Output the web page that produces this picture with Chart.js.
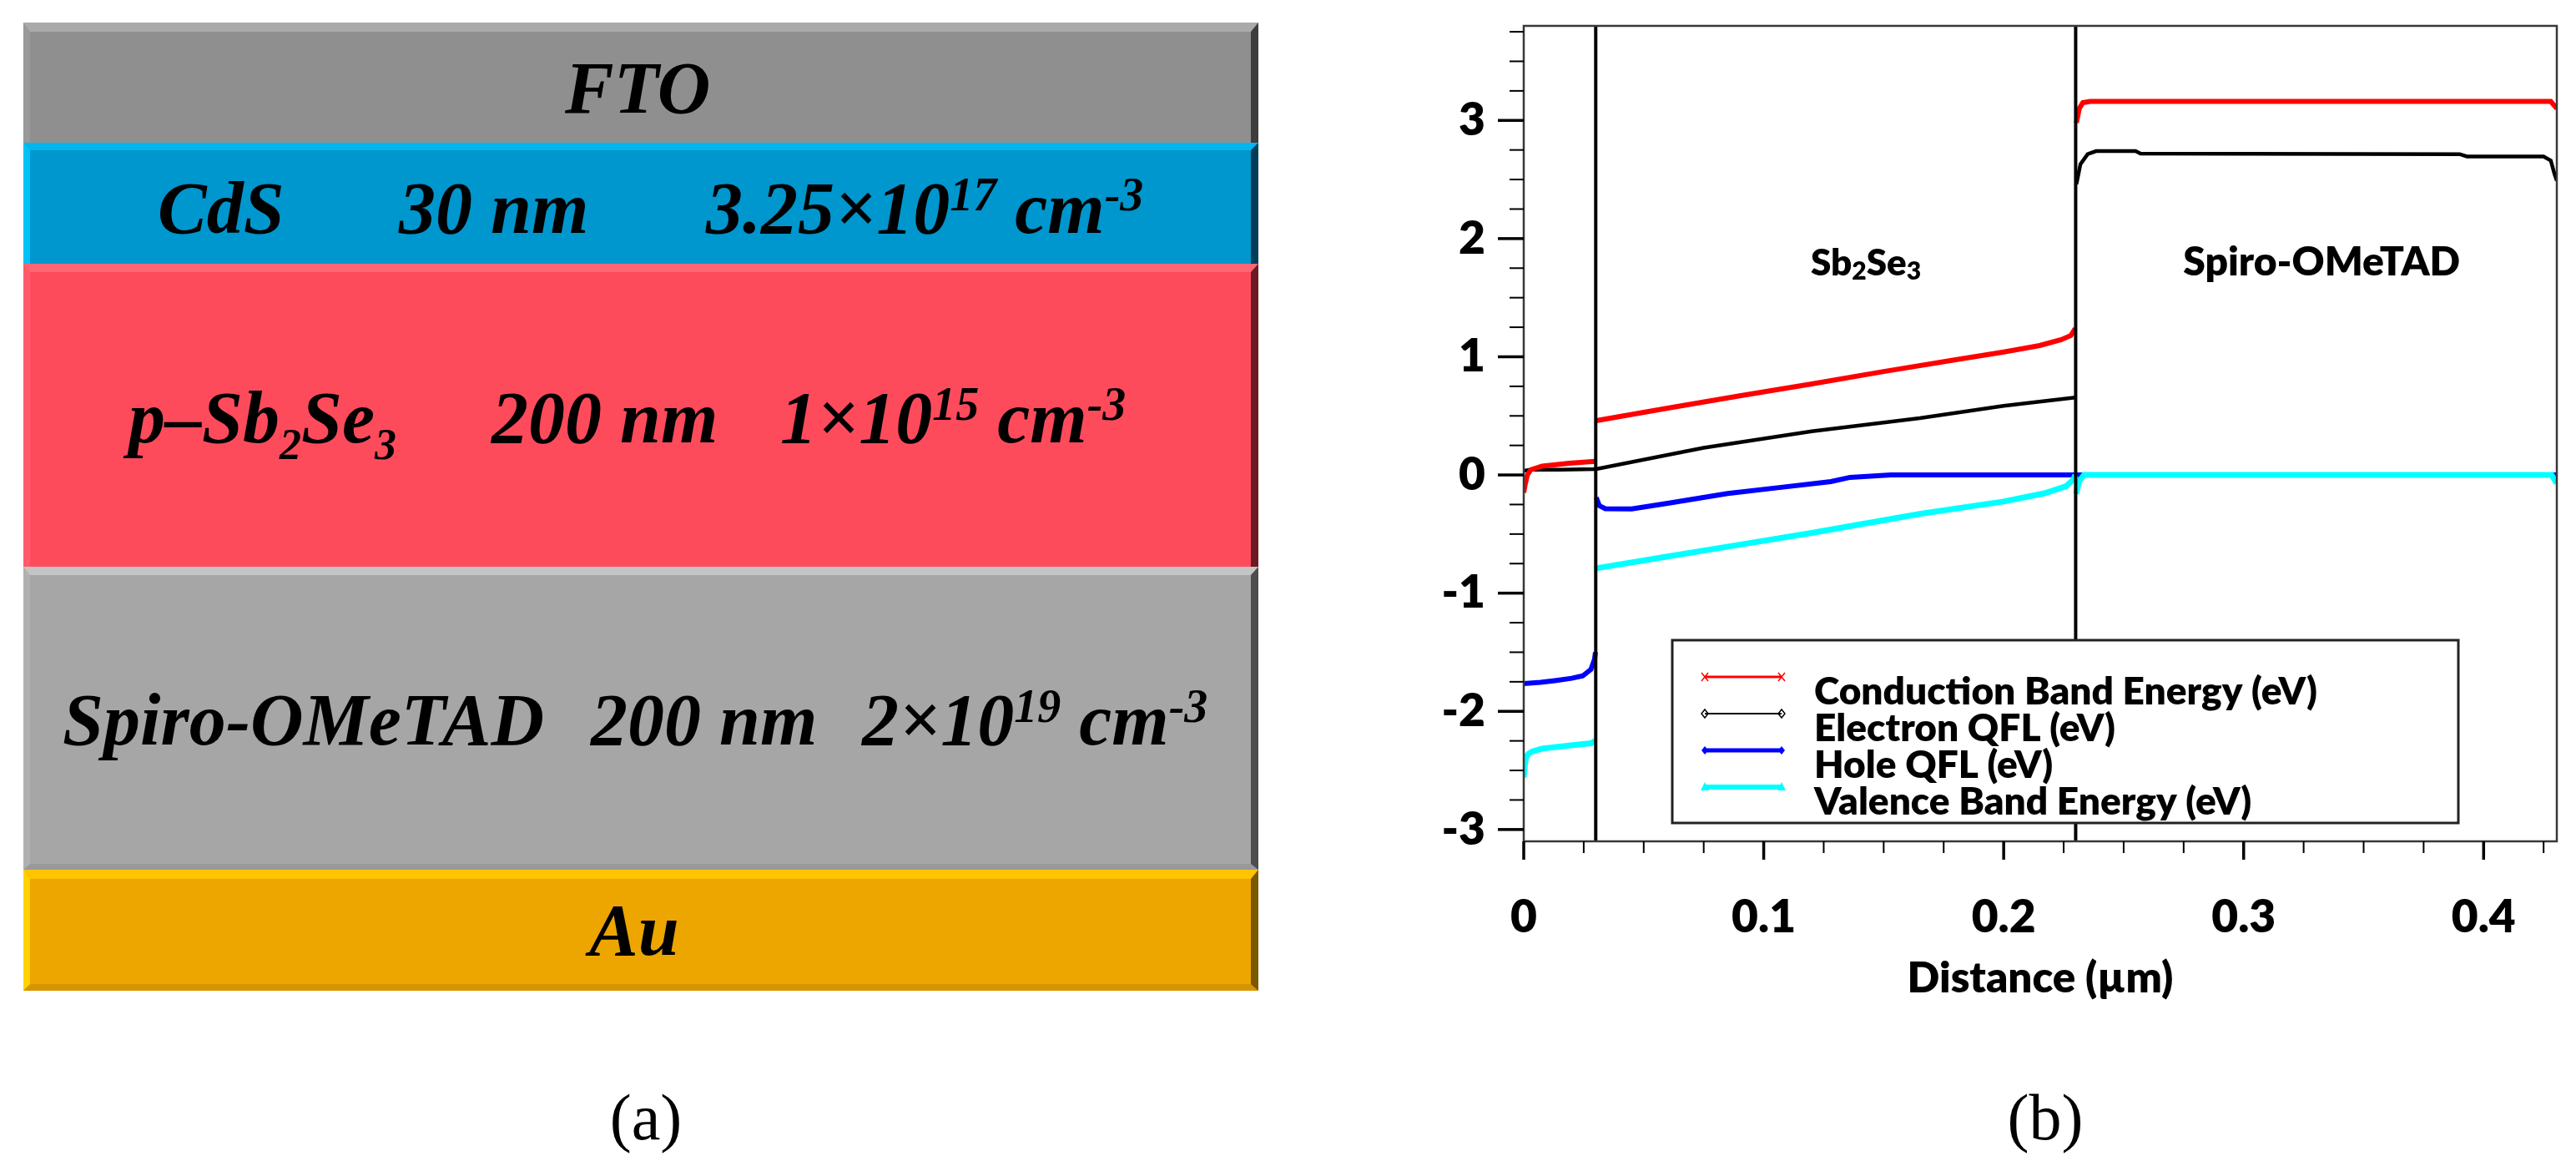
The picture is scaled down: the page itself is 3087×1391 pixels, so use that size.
<!DOCTYPE html>
<html>
<head>
<meta charset="utf-8">
<script src="https://cdn.jsdelivr.net/npm/chart.js@4.4.0/dist/chart.umd.min.js"></script>
<style>
  html, body { margin: 0; padding: 0; background: #fff; }
  body { width: 3087px; height: 1391px; position: relative; overflow: hidden; }
  .layer { position: absolute; left: 28px; width: 1480px; box-sizing: border-box; border-style: solid; }
  .txt { position: absolute; font-family: 'Liberation Serif', 'Times New Roman', serif; font-weight: bold; font-style: italic;
         font-size: 88px; line-height: 88px; white-space: nowrap; color: #000; }
  .txt sup { font-size: 56px; position: relative; top: -27px; vertical-align: baseline; }
  .txt sub { font-size: 52px; position: relative; top: 20px; vertical-align: baseline; }
  .cap { position: absolute; width: 200px; text-align: center; font-family: 'Liberation Serif', 'Times New Roman', serif;
         font-size: 78px; line-height: 78px; color: #000; }
  #chartBox { position: absolute; left: 1700px; top: 0; width: 1387px; height: 1250px; }
</style>
</head>
<body>

<!-- (a) device stack -->
<div class="layer" style="top:27px;height:144px;background:#8f8f8f;border-width:11px 9px 0 8px;border-color:#aaaaaa #3d3d3d #8f8f8f #999999"></div>
<div class="layer" style="top:171px;height:145px;background:#0096ce;border-width:9px 9px 0 8px;border-color:#00b6ef #003d58 #0096ce #00c3f5"></div>
<div class="layer" style="top:316px;height:363px;background:#fd4b5c;border-width:10px 9px 0 8px;border-color:#ff6674 #6a1b25 #fd4b5c #ff5a6a"></div>
<div class="layer" style="top:679px;height:363px;background:#a6a6a6;border-width:10px 9px 7px 8px;border-color:#c4c4c4 #4d4d4d #999999 #b0b0b0"></div>
<div class="layer" style="top:1042px;height:145px;background:#eda500;border-width:11px 9px 8px 8px;border-color:#ffc400 #7a5800 #d69500 #ffd200"></div>

<div class="txt" style="left:677px;top:62px">FTO</div>

<div class="txt" style="left:189px;top:206px">CdS</div>
<div class="txt" style="left:478px;top:206px">30 nm</div>
<div class="txt" style="left:846px;top:206px">3.25×10<sup>17</sup> cm<sup>-3</sup></div>

<div class="txt" style="left:154px;top:457px">p–Sb<sub>2</sub>Se<sub>3</sub></div>
<div class="txt" style="left:589px;top:457px">200 nm</div>
<div class="txt" style="left:935px;top:457px">1×10<sup>15</sup> cm<sup>-3</sup></div>

<div class="txt" style="left:75px;top:819px">Spiro-OMeTAD</div>
<div class="txt" style="left:708px;top:819px">200 nm</div>
<div class="txt" style="left:1033px;top:819px">2×10<sup>19</sup> cm<sup>-3</sup></div>

<div class="txt" style="left:706px;top:1071px">Au</div>

<div class="cap" style="left:674px;top:1300px">(a)</div>
<div class="cap" style="left:2351px;top:1300px">(b)</div>

<!-- (b) band diagram -->
<div id="chartBox"><canvas id="chart" width="1387" height="1250"></canvas></div>

<script>
// layer interfaces, µm (CdS | Sb2Se3 | Spiro-OMeTAD)
const interfaces = [0.03, 0.23];

// Conduction band energy (eV)
const cbX = [0, 0.0006, 0.0015, 0.003, 0.0077, 0.019, 0.0298, 0.03, 0.0302, 0.06, 0.09, 0.12, 0.15, 0.18, 0.20, 0.215, 0.224, 0.228, 0.2298, 0.23, 0.2303, 0.2315, 0.233, 0.236, 0.33, 0.428, 0.4305];
const cbY = [-0.15, -0.08, 0.0, 0.045, 0.075, 0.10, 0.115, null, 0.46, 0.565, 0.67, 0.77, 0.875, 0.975, 1.04, 1.095, 1.145, 1.18, 1.24, null, 2.98, 3.10, 3.15, 3.16, 3.16, 3.16, 3.10];

// Electron quasi-Fermi level (eV)
const efnX = [0, 0.003, 0.015, 0.0302, 0.075, 0.12, 0.165, 0.20, 0.2298, 0.23, 0.2303, 0.232, 0.235, 0.2385, 0.255, 0.257, 0.39, 0.393, 0.425, 0.428, 0.4295, 0.4305];
const efnY = [0.035, 0.045, 0.045, 0.05, 0.23, 0.37, 0.48, 0.585, 0.655, null, 2.46, 2.63, 2.715, 2.74, 2.74, 2.72, 2.715, 2.695, 2.695, 2.66, 2.55, 2.49];

// Hole quasi-Fermi level (eV)
const efpX = [0, 0.007, 0.013, 0.02, 0.0246, 0.028, 0.0295, 0.0299, 0.03, 0.0302, 0.0315, 0.034, 0.045, 0.06, 0.085, 0.105, 0.128, 0.136, 0.153, 0.30, 0.4305];
const efpY = [-1.765, -1.755, -1.74, -1.72, -1.70, -1.645, -1.56, -1.50, null, -0.19, -0.26, -0.285, -0.288, -0.24, -0.157, -0.11, -0.056, -0.02, 0.0, 0.0, 0.0];

// Valence band energy (eV)
const evX = [0, 0.0005, 0.001, 0.002, 0.0035, 0.0077, 0.019, 0.028, 0.0298, 0.03, 0.0302, 0.06, 0.09, 0.12, 0.165, 0.20, 0.217, 0.226, 0.229, 0.2299, 0.23, 0.2302, 0.2315, 0.2335, 0.33, 0.4283, 0.4305];
const evY = [-2.56, -2.45, -2.385, -2.36, -2.34, -2.315, -2.29, -2.27, -2.25, null, -0.79, -0.69, -0.59, -0.49, -0.33, -0.225, -0.155, -0.096, -0.04, 0.0, null, -0.16, -0.05, 0.0, 0.0, 0.0, -0.07];

const seriesNames = ['Conduction Band Energy (eV)', 'Electron QFL (eV)', 'Hole QFL (eV)', 'Valence Band Energy (eV)'];
const seriesColors = ['#ff0000', '#000000', '#0000ff', '#00ffff'];

const xTickLabels = [0, 0.1, 0.2, 0.3, 0.4];
const yTickLabels = [-3, -2, -1, 0, 1, 2, 3];

const regionNames = ['Sb2Se3', 'Spiro-OMeTAD'];

const pts = (xs, ys) => xs.map((x, i) => ({ x: x, y: ys[i] }));
const near = (list, v) => list.some(u => Math.abs(u - v) < 1e-6);

const FONT = 'Lato, "Open Sans", sans-serif';

// frame, ticks, interfaces, region names and legend
const bandPlot = {
    id: 'bandPlot',
    afterDatasetsDraw(chart) {
        const { ctx, chartArea: a, scales: { x, y } } = chart;
        ctx.save();

        ctx.strokeStyle = '#000';
        ctx.lineWidth = 4;
        interfaces.forEach(v => {
            const px = x.getPixelForValue(v);
            ctx.beginPath();
            ctx.moveTo(px, a.top);
            ctx.lineTo(px, a.bottom);
            ctx.stroke();
        });

        ctx.strokeStyle = '#383838';
        ctx.lineWidth = 2.5;
        ctx.strokeRect(a.left, a.top, a.right - a.left, a.bottom - a.top);

        ctx.strokeStyle = '#000';
        y.ticks.forEach(t => {
            const py = y.getPixelForValue(t.value);
            const major = near(yTickLabels, t.value);
            ctx.lineWidth = major ? 3.5 : 2;
            ctx.beginPath();
            ctx.moveTo(a.left, py);
            ctx.lineTo(a.left - (major ? 31 : 17), py);
            ctx.stroke();
        });
        x.ticks.forEach(t => {
            const px = x.getPixelForValue(t.value);
            const major = near(xTickLabels, t.value);
            ctx.lineWidth = major ? 3.5 : 2;
            ctx.beginPath();
            ctx.moveTo(px, a.bottom);
            ctx.lineTo(px, a.bottom + (major ? 22 : 14));
            ctx.stroke();
        });

        // region names
        ctx.fillStyle = '#000';
        ctx.textBaseline = 'alphabetic';
        const big = '800 44px ' + FONT, small = '800 30px ' + FONT;
        const parts = [['Sb', big, 0], ['2', small, 5], ['Se', big, 0], ['3', small, 5]];
        let total = 0;
        parts.forEach(p => { ctx.font = p[1]; total += ctx.measureText(p[0]).width; });
        let cx = x.getPixelForValue(0.1426) - total / 2;
        const by = y.getPixelForValue(1.69);
        ctx.textAlign = 'left';
        parts.forEach(p => {
            ctx.font = p[1];
            ctx.fillText(p[0], cx, by + p[2]);
            cx += ctx.measureText(p[0]).width;
        });
        ctx.font = '800 48px ' + FONT;
        ctx.textAlign = 'center';
        ctx.fillText(regionNames[1], x.getPixelForValue(0.3325), by);

        // legend box
        const lx = a.left + 178, ly = a.top + 736, lw = 942, lh = 219;
        ctx.fillStyle = '#fff';
        ctx.fillRect(lx, ly, lw, lh);
        ctx.strokeStyle = '#222';
        ctx.lineWidth = 3;
        ctx.strokeRect(lx, ly, lw, lh);

        const widths = [3, 2, 5, 6];
        ctx.font = '800 46px ' + FONT;
        ctx.textAlign = 'left';
        seriesNames.forEach((name, i) => {
            const ry = ly + 44 + i * 44;
            const x0 = lx + 39, x1 = lx + 131;
            ctx.strokeStyle = seriesColors[i];
            ctx.fillStyle = seriesColors[i];
            ctx.lineWidth = widths[i];
            ctx.beginPath();
            ctx.moveTo(x0, ry);
            ctx.lineTo(x1, ry);
            ctx.stroke();
            ctx.lineWidth = 1.5;
            [x0, x1].forEach(ex => {
                ctx.beginPath();
                if (i === 0) {
                    ctx.moveTo(ex - 4, ry - 5); ctx.lineTo(ex + 4, ry + 5);
                    ctx.moveTo(ex + 4, ry - 5); ctx.lineTo(ex - 4, ry + 5);
                    ctx.stroke();
                } else if (i === 3) {
                    ctx.moveTo(ex, ry - 6); ctx.lineTo(ex + 5, ry + 4); ctx.lineTo(ex - 5, ry + 4);
                    ctx.closePath(); ctx.fill();
                } else {
                    ctx.moveTo(ex, ry - 5); ctx.lineTo(ex + 4, ry); ctx.lineTo(ex, ry + 5); ctx.lineTo(ex - 4, ry);
                    ctx.closePath();
                    i === 1 ? ctx.stroke() : ctx.fill();
                }
            });
            ctx.fillStyle = '#000';
            ctx.fillText(name, lx + 170, ry + 33);
        });

        ctx.restore();
    }
};

const lineSet = (i, xs, ys, width, order) => ({
    label: seriesNames[i],
    data: pts(xs, ys),
    borderColor: seriesColors[i],
    borderWidth: width,
    pointRadius: 0,
    fill: false,
    tension: 0,
    spanGaps: false,
    order: order
});

const tickFont = { family: FONT, weight: 800, size: 55, lineHeight: 1 };

new Chart(document.getElementById('chart').getContext('2d'), {
    type: 'line',
    data: {
        datasets: [
            lineSet(3, evX, evY, 7, 0),
            lineSet(0, cbX, cbY, 6, 1),
            lineSet(1, efnX, efnY, 4.5, 2),
            lineSet(2, efpX, efpY, 6, 3)
        ]
    },
    options: {
        responsive: false,
        animation: false,
        layout: { padding: { left: 0, top: 31, right: 23, bottom: 42 } },
        plugins: { legend: { display: false }, tooltip: { enabled: false } },
        scales: {
            x: {
                type: 'linear',
                min: 0,
                max: 0.4305,
                afterFit(scale) {
                    scale.height = 200;
                    scale.paddingLeft = 0;
                    scale.paddingRight = 0;
                },
                grid: { display: false, drawTicks: false },
                border: { display: false },
                ticks: {
                    stepSize: 0.025,
                    includeBounds: false,
                    autoSkip: false,
                    maxRotation: 0,
                    padding: 64,
                    color: '#000',
                    font: tickFont,
                    callback: v => near(xTickLabels, v) ? String(Math.round(v * 10) / 10) : ''
                },
                title: {
                    display: true,
                    text: 'Distance (µm)',
                    color: '#000',
                    font: { family: FONT, weight: 800, size: 51, lineHeight: 1 },
                    padding: { top: 0, bottom: 10 }
                }
            },
            y: {
                min: -3.1,
                max: 3.8,
                afterFit(scale) {
                    scale.width = 126;
                    scale.paddingTop = 0;
                    scale.paddingBottom = 0;
                },
                grid: { display: false, drawTicks: false },
                border: { display: false },
                ticks: {
                    stepSize: 0.25,
                    includeBounds: false,
                    autoSkip: false,
                    padding: 46,
                    color: '#000',
                    font: tickFont,
                    callback: v => near(yTickLabels, v) ? String(Math.round(v)) : ''
                }
            }
        }
    },
    plugins: [bandPlot]
});
</script>
</body>
</html>
